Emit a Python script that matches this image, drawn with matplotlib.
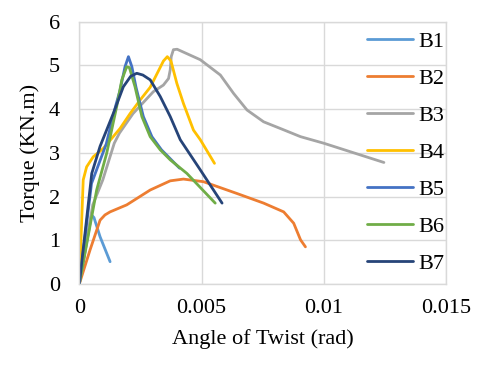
import matplotlib
matplotlib.use("Agg")
import matplotlib.pyplot as plt

labels = ["B1", "B2", "B3", "B4", "B5", "B6", "B7"]
colors = ["#5B9BD5", "#ED7D31", "#A5A5A5", "#FFC000", "#4472C4", "#70AD47", "#264478"]

b1_x = [0, 0.00050, 0.00060, 0.00085, 0.00126]
b1_y = [0, 1.58, 1.52, 1.08, 0.51]

b2_x = [0, 0.00044, 0.00085, 0.00105, 0.00126, 0.00194, 0.00290, 0.00372, 0.00426,
        0.00508, 0.00645, 0.00754, 0.00836, 0.00877, 0.00905, 0.00925]
b2_y = [0, 0.78, 1.46, 1.58, 1.65, 1.81, 2.15, 2.36, 2.40,
        2.34, 2.07, 1.85, 1.65, 1.39, 1.01, 0.85]

b3_x = [0, 0.00055, 0.00096, 0.00143, 0.00164, 0.00220, 0.00303, 0.00344, 0.00365,
        0.00372, 0.00376, 0.00385, 0.00400, 0.00495, 0.00577, 0.00631, 0.00686,
        0.00754, 0.00830, 0.00905, 0.01000, 0.01246]
b3_y = [0, 1.81, 2.38, 3.22, 3.45, 3.90, 4.40, 4.55, 4.70,
        4.90, 5.20, 5.36, 5.37, 5.13, 4.78, 4.36, 3.98,
        3.71, 3.54, 3.37, 3.22, 2.78]

b4_x = [0, 0.00016, 0.00030, 0.00057, 0.00098, 0.00167, 0.00208, 0.00249, 0.00290,
        0.00344, 0.00360, 0.00375, 0.00399, 0.00426, 0.00467, 0.00495, 0.00553]
b4_y = [0, 2.38, 2.68, 2.91, 3.10, 3.56, 3.90, 4.21, 4.50,
        5.10, 5.20, 5.10, 4.59, 4.13, 3.52, 3.30, 2.76]

b5_x = [0, 0.00050, 0.00110, 0.00150, 0.00167, 0.00187, 0.00201, 0.00215, 0.00232,
        0.00262, 0.00297, 0.00336, 0.00410]
b5_y = [0, 2.30, 3.20, 4.10, 4.44, 4.97, 5.20, 4.97, 4.50,
        3.83, 3.37, 3.07, 2.65]

b6_x = [0, 0.00071, 0.00112, 0.00153, 0.00174, 0.00194, 0.00205, 0.00228, 0.00256,
        0.00290, 0.00331, 0.00372, 0.00440, 0.00556]
b6_y = [0, 2.15, 2.99, 4.06, 4.67, 4.97, 4.95, 4.51, 3.83,
        3.37, 3.07, 2.84, 2.53, 1.85]

b7_x = [0, 0.00051, 0.00085, 0.00139, 0.00180, 0.00210, 0.00235, 0.00260, 0.00290,
        0.00331, 0.00372, 0.00413, 0.00495, 0.00584]
b7_y = [0, 2.53, 3.15, 3.90, 4.51, 4.75, 4.82, 4.78, 4.67,
        4.29, 3.83, 3.30, 2.61, 1.85]

series_x = [b1_x, b2_x, b3_x, b4_x, b5_x, b6_x, b7_x]
series_y = [b1_y, b2_y, b3_y, b4_y, b5_y, b6_y, b7_y]

x_ticks = [0, 0.005, 0.01, 0.015]
x_tick_labels = ["0", "0.005", "0.01", "0.015"]
y_ticks = [0, 1, 2, 3, 4, 5, 6]

plt.rcParams['font.family'] = ['Liberation Serif', 'DejaVu Serif']
fs = 16

fig = plt.figure(figsize=(4.8, 3.69), dpi=100)
ax = fig.add_axes([79.3 / 480, 1 - 284 / 369, (446 - 79.3) / 480, (284 - 21.7) / 369])

for xs, ys, lab, c in zip(series_x, series_y, labels, colors):
    ax.plot(xs, ys, color=c, lw=2.0, label=lab, solid_capstyle='round', solid_joinstyle='round')

ax.set_xlim(0, 0.015)
ax.set_ylim(0, 6)
ax.set_xticks(x_ticks)
ax.set_xticklabels(x_tick_labels)
ax.set_yticks(y_ticks)
ax.grid(True, color='#D9D9D9', lw=1.0)
ax.set_axisbelow(True)
for s in ax.spines.values():
    s.set_color('#D9D9D9')
    s.set_linewidth(1.0)
ax.tick_params(axis='both', length=0, labelsize=fs, colors='black')
ax.tick_params(axis='x', pad=11)
ax.tick_params(axis='y', pad=14)

ax.set_xlabel("Angle of Twist (rad)", fontsize=fs, labelpad=8)
ax.set_ylabel("Torque (KN.m)", fontsize=fs, labelpad=6)

leg = ax.legend(loc='upper left', bbox_to_anchor=(367 / 480, 1 - 31 / 369),
                bbox_transform=fig.transFigure, frameon=False, fontsize=fs,
                handlelength=2.07, handletextpad=0.22, labelspacing=0.74,
                borderpad=0, borderaxespad=0)

fig.savefig("out.png", dpi=100)
